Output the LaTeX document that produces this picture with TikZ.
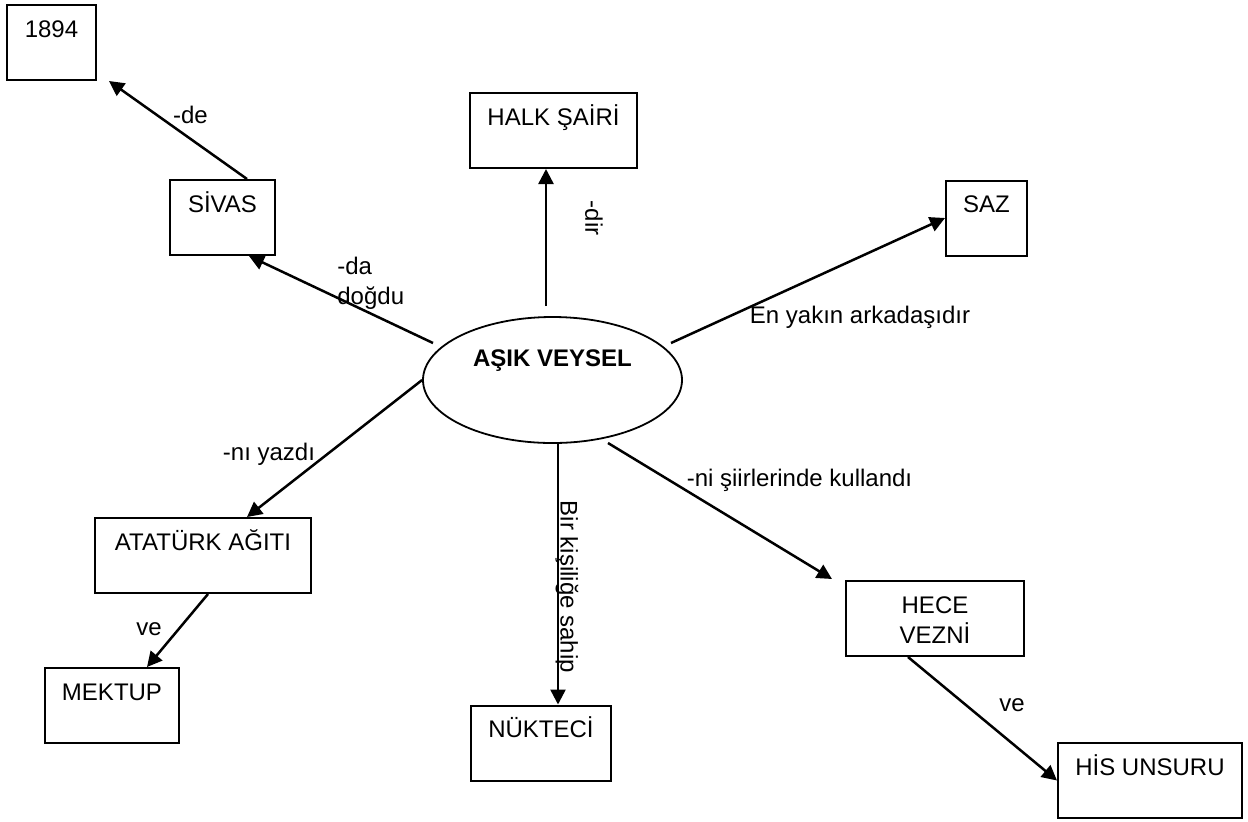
\documentclass[tikz,border=0pt]{standalone}
\usepackage{fontspec}
\setmainfont{Liberation Sans}
\usetikzlibrary{arrows.meta,calc,shapes.geometric}
\begin{document}
\begin{tikzpicture}[x=0.5pt,y=-0.5pt,
  font=\fontsize{12pt}{15pt}\selectfont,
  box/.style={draw,line width=1pt,rectangle,inner sep=0pt,
    minimum height=37.5pt,text height=16pt,text depth=21.5pt},
  oval/.style={draw,line width=0.9pt,ellipse,inner sep=0pt,
    minimum width=129.5pt,minimum height=63pt,text height=9pt,text depth=23pt,
    font=\fontsize{12pt}{15pt}\selectfont\bfseries},
  arr/.style={draw,line width=1.25pt,-{Triangle[length=7.5pt,width=7.5pt]}},
  lbl/.style={inner sep=0pt,anchor=base},
  vlbl/.style={inner sep=0pt,rotate=-90}]
\useasboundingbox (0,0) rectangle (1248,821);
% nodes
\node[oval] (ell) at (552.5,380) {AŞIK VEYSEL};
\node[box,minimum width=44.5pt] (n1894) at (51.5,42.5) {1894};
\node[box,minimum width=52.5pt] (sivas) at (222.5,217.5) {SİVAS};
\node[box,minimum width=83.5pt] (halk) at (553.5,130.5) {HALK ŞAİRİ};
\node[box,minimum width=40.5pt] (saz) at (986.5,218) {SAZ};
\node[box,minimum width=108pt] (atat) at (203,555.5) {ATATÜRK AĞITI};
\node[box,minimum width=67pt] (mektup) at (112,705.5) {MEKTUP};
\node[box,minimum width=70pt] (nukteci) at (541,743) {NÜKTECİ};
\node[box,minimum width=89pt] (hece) at (935,618.5) {\begin{tabular}[t]{@{}c@{}}HECE\\VEZNİ\end{tabular}};
\node[box,minimum width=92pt] (his) at (1150,780.5) {HİS UNSURU};
% connectors
\draw[arr] ($(sivas.north east)+(-29,0)$) -- ($(n1894.south east)+(12,0)$);
\draw[arr] ($(ell.center)+(-119.5,-37)$) -- ($(sivas.south east)+(-27,0)$);
\draw[arr] ($(ell.north)+(-6.5,-10)$) -- ($(halk.south)+(-7.5,0)$);
\draw[arr] ($(ell.center)+(118.5,-37)$) -- (saz.west);
\draw[arr] (ell.west) -- ($(atat.north)+(44,0)$);
\draw[arr] ($(atat.south)+(5,0)$) -- ($(mektup.north)+(35,0)$);
\draw[arr] ($(ell.south)+(5.5,0)$) -- ($(nukteci.north)+(17,0)$);
\draw[arr] ($(ell.center)+(55.5,63)$) -- ($(hece.north west)+(-13,-1)$);
\draw[arr] ($(hece.south)+(-27,0)$) -- (his.west);
% labels
\node[lbl] (lde) at (190.5,123) {-de};
\node[lbl,anchor=base west] (lda) at (337,274) {\begin{tabular}[t]{@{}l@{}}-da\\doğdu\end{tabular}};
\node[vlbl] (ldir) at (594,218) {-dir};
\node[lbl] (lsaz) at (860,323) {En yakın arkadaşıdır};
\node[lbl] (lyazdi) at (269,460) {-nı yazdı};
\node[vlbl] (lkisi) at (567,587) {Bir kişiliğe sahip};
\node[lbl] (lsiir) at (799.5,486) {-ni şiirlerinde kullandı};
\node[lbl] (lve1) at (149,635) {ve};
\node[lbl] (lve2) at (1012,711) {ve};
\end{tikzpicture}
\end{document}
